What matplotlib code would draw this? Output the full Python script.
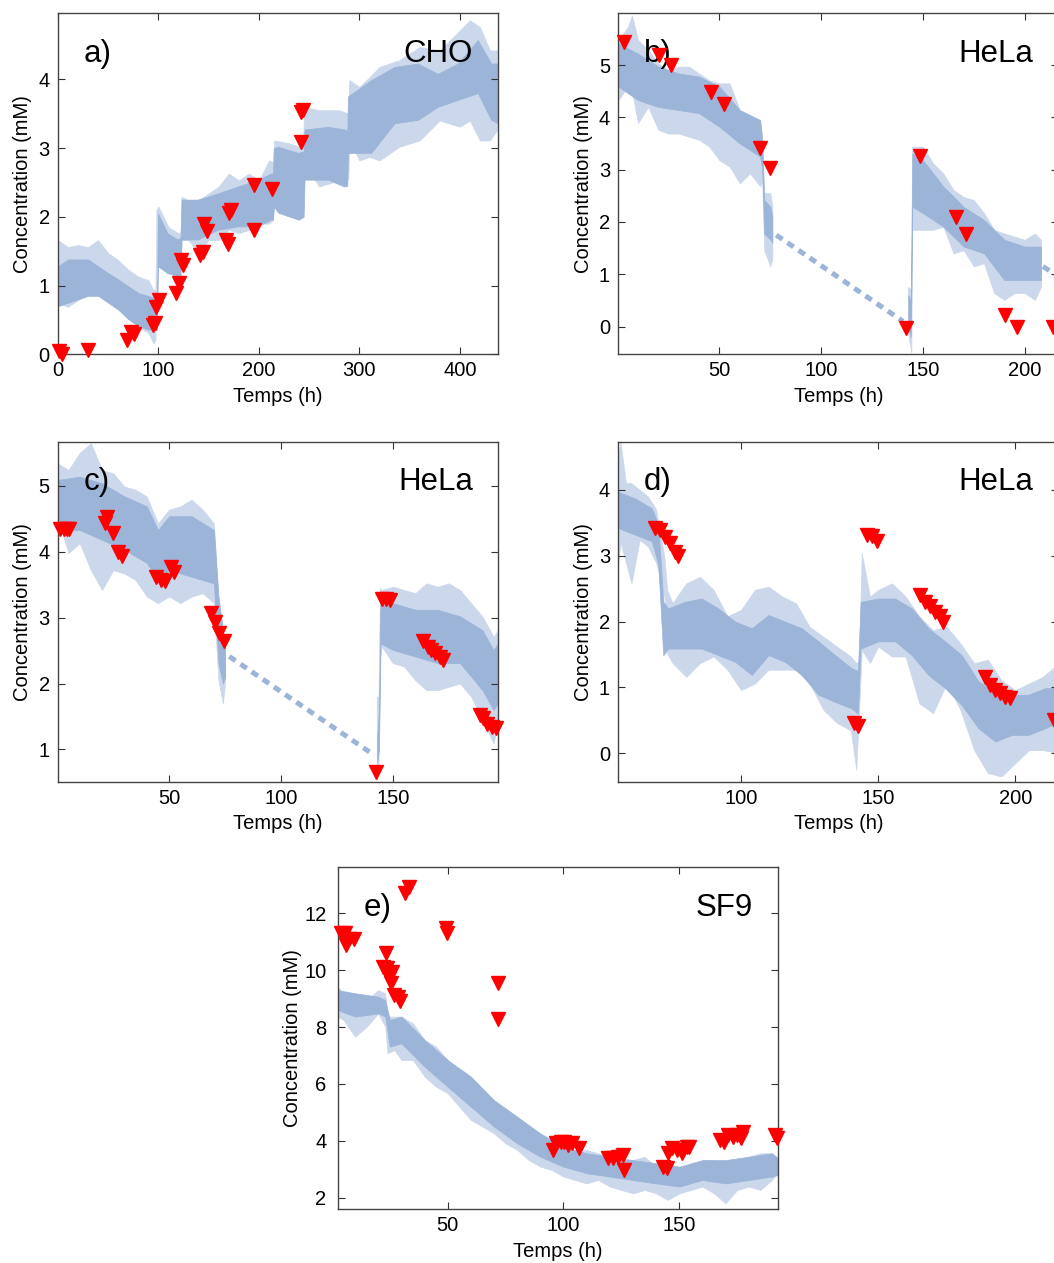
import numpy as np
import matplotlib.pyplot as plt

plt.rcParams['font.family'] = ['Liberation Sans', 'DejaVu Sans']

sig_col = '#9bb4d8'
halo_col = '#cbd8ec'
mk_col = '#ff0000'

# ---- a) CHO : outer envelope (spikes) ----
a_x = [0, 10, 20, 30, 40, 50, 60, 70, 80, 90, 95, 97, 98, 100, 110, 120, 122, 123,
       130, 140, 150, 160, 170, 180, 190, 200, 210, 214, 215, 230, 240, 244, 245,
       260, 280, 289, 290, 300, 310, 320, 340, 360, 380, 400, 410, 420, 430, 437]
a_hi = [1.66, 1.56, 1.59, 1.56, 1.66, 1.47, 1.37, 1.23, 1.13, 1.08, 0.93, 0.95, 2.10,
        2.15, 1.85, 1.76, 1.78, 2.29, 2.24, 2.24, 2.34, 2.44, 2.63, 2.53, 2.63, 2.53,
        2.82, 2.80, 3.11, 3.07, 3.02, 3.05, 3.60, 3.55, 3.55, 3.50, 3.99, 3.89, 4.03,
        4.18, 4.28, 4.47, 4.42, 4.71, 4.86, 4.76, 4.42, 4.42]
a_lo = [0.74, 0.69, 0.79, 0.89, 0.93, 0.79, 0.69, 0.55, 0.40, 0.31, 0.16, 0.20, 1.27,
        1.27, 1.23, 1.32, 1.35, 1.66, 1.66, 1.47, 1.66, 1.66, 1.81, 1.76, 1.81, 1.90,
        1.90, 1.95, 2.34, 2.15, 1.95, 2.00, 2.77, 2.44, 2.53, 2.55, 3.11, 2.82, 2.87,
        2.82, 3.02, 3.11, 3.40, 3.31, 3.40, 3.11, 3.11, 3.26]
# core (dense part of the trace)
a_cx = [0, 10, 20, 30, 40, 50, 60, 70, 80, 90, 98.5, 99.5, 109, 119, 122, 123, 139, 159,
        179, 199, 212, 214, 215, 219, 239, 244.5, 245.4, 268.7, 285.2, 288, 288.6, 311.8,
        335, 358.2, 378.1, 398, 417.9, 431.2, 437.8]
a_chi = [1.28, 1.38, 1.38, 1.38, 1.28, 1.18, 1.09, 0.99, 0.89, 0.85, 0.80, 2.05, 1.76,
         1.67, 1.70, 2.25, 2.25, 2.34, 2.44, 2.54, 2.63, 2.63, 3.00, 3.02, 2.93, 2.95,
         3.27, 3.31, 3.27, 3.25, 3.75, 3.99, 4.18, 4.23, 4.08, 4.23, 4.57, 4.23, 4.23]
a_clo = [0.70, 0.75, 0.80, 0.85, 0.85, 0.75, 0.65, 0.51, 0.41, 0.36, 0.35, 1.28, 1.18,
         1.14, 1.15, 1.67, 1.67, 1.81, 1.86, 1.86, 1.96, 1.96, 2.15, 2.06, 1.96, 2.00,
         2.54, 2.54, 2.44, 2.45, 2.93, 2.93, 3.36, 3.41, 3.60, 3.70, 3.80, 3.41, 3.36]
a_mx = [1, 4, 30, 69, 73, 76, 94.5, 97, 98, 100.5, 117, 120, 122, 124, 141, 144, 145,
        148, 167.5, 169, 170, 172.5, 194.7, 194.7, 213, 241.5, 242, 244]
a_my = [0.05, 0.0, 0.06, 0.21, 0.33, 0.30, 0.43, 0.45, 0.69, 0.79, 0.89, 1.03, 1.37,
        1.30, 1.44, 1.49, 1.90, 1.80, 1.66, 1.61, 2.06, 2.10, 1.81, 2.46, 2.41, 3.09,
        3.53, 3.55]

# ---- b) HeLa ----
b_x1 = [0.3, 5, 7, 10, 15, 20, 25, 30, 35, 40, 45, 50, 55, 60, 65, 70, 71, 72, 75, 76]
b_hi1 = [5.48, 5.73, 5.95, 5.48, 5.29, 5.03, 4.90, 4.97, 4.97, 4.84, 4.71, 4.65, 4.65,
         4.14, 3.95, 3.95, 3.06, 2.55, 2.55, 2.30]
b_lo1 = [4.33, 4.59, 4.50, 3.89, 4.20, 3.76, 3.69, 3.69, 3.63, 3.57, 3.44, 3.18, 3.06,
         2.74, 2.93, 2.68, 2.80, 1.46, 1.15, 1.30]
b_cx1 = [0.3, 10, 20, 30, 40, 50, 60, 70, 71, 72, 75, 76]
b_chi1 = [5.41, 5.22, 4.97, 4.84, 4.78, 4.59, 4.14, 3.95, 3.60, 2.42, 2.29, 2.10]
b_clo1 = [4.59, 4.33, 4.20, 4.14, 4.08, 3.82, 3.50, 3.25, 3.00, 1.78, 1.66, 1.60]
b_x2 = [142.6, 144.3, 144.6, 150, 155, 160, 165, 170, 175, 180, 185, 190, 195, 200, 205, 208]
b_hi2 = [0.76, 0.70, 3.44, 3.44, 3.12, 2.93, 2.61, 2.48, 2.42, 2.17, 1.85, 1.78, 1.72,
         1.66, 1.78, 1.66]
b_lo2 = [-0.10, -0.50, 1.85, 1.85, 1.85, 1.91, 1.40, 1.46, 1.15, 1.21, 0.64, 0.51, 0.64,
         0.64, 0.51, 0.76]
b_cx2 = [142.8, 144.0, 144.8, 150, 160, 170, 180, 190, 200, 208]
b_chi2 = [0.60, 0.50, 3.31, 3.18, 2.68, 2.29, 2.04, 1.66, 1.53, 1.53]
b_clo2 = [0.00, -0.20, 2.29, 2.17, 1.91, 1.53, 1.40, 0.89, 0.89, 0.89]
b_gap_x = [[77.9, 140.2], [209, 216]]
b_gap_y = [[1.75, 0.10], [1.15, 0.97]]
b_mx = [3.3, 20.5, 26.2, 45.9, 52, 69.7, 74.9, 141.8, 148.4, 166.1, 171, 190.2, 196, 214]
b_my = [5.45, 5.19, 5.00, 4.49, 4.25, 3.41, 3.04, -0.03, 3.26, 2.10, 1.77, 0.22, -0.01,
        -0.01]

# ---- c) HeLa ----
c_x1 = [0.3, 5, 10, 15, 20, 25, 30, 35, 40, 45, 50, 55, 60, 65, 70, 72, 74, 75]
c_hi1 = [5.34, 5.24, 5.50, 5.65, 5.24, 5.19, 4.99, 4.94, 4.84, 4.43, 4.64, 4.69, 4.79,
         4.64, 4.43, 3.32, 2.81, 2.60]
c_lo1 = [4.48, 3.98, 4.13, 3.72, 3.42, 3.72, 3.67, 3.57, 3.32, 3.22, 3.32, 3.22, 3.32,
         3.37, 3.22, 2.05, 1.70, 2.00]
c_cx1 = [0.3, 10, 20, 30, 40, 45, 50, 60, 70, 72, 74, 75]
c_chi1 = [5.09, 5.14, 5.04, 4.84, 4.69, 4.33, 4.54, 4.54, 4.33, 3.32, 2.81, 2.60]
c_clo1 = [4.33, 4.33, 4.18, 4.03, 3.83, 3.57, 3.72, 3.62, 3.52, 2.31, 2.00, 2.10]
c_x2 = [142.8, 143.6, 144.2, 145, 150, 155, 160, 165, 170, 175, 180, 185, 190, 195, 197]
c_hi2 = [1.80, 1.80, 3.45, 3.42, 3.47, 3.42, 3.37, 3.52, 3.47, 3.52, 3.42, 3.22, 3.02,
         2.71, 2.81]
c_lo2 = [0.53, 0.80, 2.40, 2.56, 2.31, 2.26, 2.05, 1.90, 1.90, 1.95, 2.00, 1.80, 1.45,
         1.09, 1.39]
c_cx2 = [143.0, 143.8, 144.5, 150, 160, 170, 180, 190, 195, 197]
c_chi2 = [1.20, 1.60, 3.32, 3.22, 3.12, 3.12, 3.02, 2.81, 2.51, 2.61]
c_clo2 = [0.80, 1.00, 2.61, 2.51, 2.41, 2.31, 2.31, 1.90, 1.60, 1.70]
c_gap_x = [76.9, 141.8]
c_gap_y = [2.41, 0.91]
c_mx = [1.2, 3.0, 4.5, 5.2, 21.3, 22.4, 24.9, 26.9, 28.8, 44.0, 46.3, 48.2, 50.7, 52.2,
        68.7, 70.6, 72.4, 74.6, 142.5, 145.2, 147.0, 148.5, 163.4, 165.7, 167.2, 168.7,
        170.9, 172.4, 188.8, 190.3, 192.1, 194.5, 196.3]
c_my = [4.34, 4.34, 4.34, 4.34, 4.43, 4.52, 4.29, 3.99, 3.93, 3.62, 3.57, 3.56, 3.77,
        3.70, 3.07, 2.94, 2.76, 2.65, 0.66, 3.28, 3.28, 3.26, 2.64, 2.56, 2.51, 2.46,
        2.41, 2.36, 1.52, 1.47, 1.39, 1.34, 1.32]

# ---- d) HeLa ----
d_x = [55.2, 56, 58, 60, 63, 66, 69, 72, 73, 75, 80, 85, 90, 95, 100, 105, 110, 115,
       120, 125, 130, 135, 140, 142, 143, 144, 147, 150, 155, 160, 165, 170, 175, 180,
       185, 190, 195, 200, 205, 210, 216]
d_hi = [4.51, 4.73, 4.10, 4.10, 4.00, 3.90, 3.70, 2.99, 2.48, 2.28, 2.58, 2.68, 2.48,
        2.08, 2.18, 2.48, 2.53, 2.38, 2.28, 1.92, 1.77, 1.62, 1.47, 1.37, 1.40, 3.04,
        2.38, 2.48, 2.58, 2.38, 2.08, 1.87, 1.92, 1.67, 1.37, 1.42, 1.11, 0.96, 1.06,
        1.16, 1.37]
d_lo = [2.89, 3.20, 2.89, 2.58, 3.24, 3.14, 2.89, 2.38, 1.52, 1.37, 1.16, 1.37, 1.47,
        1.27, 0.96, 1.06, 1.27, 1.27, 1.27, 1.06, 0.66, 0.46, 0.35, -0.25, 0.60, 1.57,
        1.37, 1.62, 1.47, 1.47, 0.76, 0.61, 1.06, 0.66, 0.05, -0.30, -0.35, -0.15, 0.05,
        0.05, 0.00]
d_cx = [55.2, 61.3, 67.4, 69.8, 71.6, 73.4, 79.5, 85.6, 91.7, 97.8, 103.9, 110, 116,
        122.1, 128.2, 134.3, 140.4, 142.6, 143.6, 150.1, 156.2, 162.3, 168.3, 174.4,
        180.5, 186.6, 192.7, 198.8, 204.8, 210.9, 216]
d_chi = [3.97, 3.87, 3.72, 3.47, 2.30, 2.20, 2.30, 2.35, 2.20, 2.00, 1.90, 2.10, 2.00,
         1.90, 1.70, 1.49, 1.29, 1.25, 2.30, 2.35, 2.35, 2.20, 1.90, 1.70, 1.49, 1.09,
         0.94, 0.89, 0.89, 0.99, 0.99]
d_clo = [3.42, 3.32, 3.22, 2.86, 1.49, 1.59, 1.59, 1.59, 1.49, 1.39, 1.19, 1.49, 1.39,
         1.19, 0.89, 0.78, 0.68, 0.60, 1.59, 1.70, 1.70, 1.49, 1.19, 0.99, 0.73, 0.38,
         0.18, 0.28, 0.28, 0.38, 0.48]
d_mx = [68.6, 70.4, 72.3, 74.1, 75.9, 77.1, 141.0, 142.8, 145.9, 147.7, 149.5, 165.3,
        167.2, 169.0, 170.8, 172.6, 173.8, 189.1, 190.9, 192.7, 194.5, 196.4, 198.2, 214]
d_my = [3.42, 3.39, 3.29, 3.19, 3.06, 2.99, 0.46, 0.41, 3.32, 3.30, 3.22, 2.41, 2.30,
        2.23, 2.15, 2.08, 2.00, 1.16, 1.04, 0.96, 0.91, 0.86, 0.84, 0.51]

# ---- e) SF9 ----
e_x = [2.5, 5, 10, 15, 20, 23, 24, 27, 30, 35, 40, 45, 50, 55, 60, 65, 70, 75, 80, 85,
       90, 95, 100, 105, 110, 115, 120, 125, 130, 135, 140, 145, 150, 155, 160, 165,
       170, 175, 180, 185, 190, 192.5]
e_hi = [9.42, 9.19, 8.95, 8.95, 9.30, 9.19, 8.37, 8.37, 8.37, 8.13, 7.55, 7.31, 6.84,
        6.37, 6.14, 5.67, 5.20, 4.85, 4.61, 4.38, 4.03, 3.91, 3.79, 3.56, 3.68, 3.56,
        3.44, 3.32, 3.32, 3.44, 3.09, 2.97, 2.97, 3.09, 3.32, 3.32, 3.09, 3.32, 3.44,
        3.56, 3.56, 3.32]
e_lo = [8.37, 8.25, 7.66, 8.01, 8.48, 8.01, 7.08, 7.19, 6.84, 6.84, 6.26, 5.90, 5.67,
        5.20, 4.73, 4.50, 4.26, 3.91, 3.68, 3.32, 3.09, 2.97, 2.74, 2.62, 2.50, 2.62,
        2.39, 2.27, 2.15, 2.27, 2.15, 1.92, 2.15, 2.27, 2.39, 2.15, 1.80, 2.27, 2.39,
        2.27, 2.62, 2.86]
e_cx = [2.5, 10, 20, 23, 25, 30, 40, 50, 60, 70, 80, 90, 100, 110, 120, 130, 140, 150,
        160, 170, 180, 190, 192.5]
e_chi = [9.30, 9.19, 9.07, 8.95, 8.25, 8.37, 7.55, 6.84, 6.26, 5.43, 4.85, 4.26, 3.79,
         3.56, 3.44, 3.32, 3.21, 3.09, 3.32, 3.32, 3.44, 3.56, 3.40]
e_clo = [8.60, 8.37, 8.48, 8.37, 7.31, 7.43, 6.61, 5.90, 5.20, 4.50, 3.91, 3.44, 3.09,
         2.86, 2.74, 2.62, 2.50, 2.39, 2.62, 2.50, 2.62, 2.74, 2.80]
e_mx = [3.8, 5.5, 6.2, 7.4, 9.6, 23.4, 22.2, 23.9, 25.8, 24.8, 25.4, 26.8, 28.7, 29.4,
        31.6, 33.5, 49.3, 49.6, 71.9, 71.9, 95.6, 96.8, 98.8, 100.2, 102.1, 103.5, 106.8,
        119.4, 121.5, 123.7, 125.8, 126.1, 143.1, 144.8, 145.3, 146.7, 148.8, 151.0,
        153.2, 154.3, 167.6, 169.3, 171.2, 173.3, 174.8, 176.5, 177.6, 191.3, 192]
e_my = [11.3, 11.3, 10.9, 11.1, 11.1, 10.59, 10.12, 10.07, 9.95, 9.71, 9.54, 9.13, 9.07,
        8.90, 12.70, 12.94, 11.47, 11.30, 9.54, 8.27, 3.68, 3.91, 3.97, 3.97, 3.85, 3.91,
        3.73, 3.38, 3.38, 3.44, 3.50, 2.97, 3.09, 3.03, 3.56, 3.73, 3.68, 3.56, 3.79,
        3.79, 4.03, 3.97, 4.20, 4.15, 4.20, 4.09, 4.32, 4.20, 4.09]

W, H = 1054, 1263
fig = plt.figure(figsize=(W / 100, H / 100), dpi=100)


def make_ax(l, t, w=440, h=341):
    return fig.add_axes([l / W, (H - t - h) / H, w / W, h / H])


def style(ax, xlim, ylim, xt, yt, tag, name, ylab_x=-0.058, ypad=6):
    ax.set_xlim(xlim)
    ax.set_ylim(ylim)
    ax.set_xticks(xt)
    ax.set_yticks(yt)
    ax.tick_params(direction='in', length=5, width=0.8, top=True, right=True,
                   labelsize=14.5, colors='#333333', labelcolor='black')
    ax.tick_params(axis='x', pad=5)
    ax.tick_params(axis='y', pad=ypad)
    for s in ax.spines.values():
        s.set_color('#444444')
        s.set_linewidth(1)
    ax.set_xlabel('Temps (h)', fontsize=14.5)
    ax.set_ylabel('Concentration (mM)', fontsize=14.5)
    ax.xaxis.set_label_coords(0.5, -0.095)
    ax.yaxis.set_label_coords(ylab_x, 0.5)
    ax.text(0.058, 0.858, tag, transform=ax.transAxes, fontsize=22.5, ha='left', va='baseline')
    ax.text(0.943, 0.858, name, transform=ax.transAxes, fontsize=22.5, ha='right', va='baseline')


def band(ax, x, lo, hi, cx, clo, chi):
    # light halo = spikes of the noisy trace, solid = dense core
    ax.fill_between(x, lo, hi, color=halo_col, lw=0.5, edgecolor=halo_col)
    ax.fill_between(cx, clo, chi, color=sig_col, lw=0.5, edgecolor=sig_col)


def marks(ax, x, y):
    ax.plot(x, y, 'v', color=mk_col, ms=9.5, mec=mk_col, clip_on=False, zorder=5)


dash = dict(color=sig_col, lw=3.6, linestyle=(0, (1.5, 1.2)), solid_capstyle='butt')

ax = make_ax(58, 13.3)
band(ax, a_x, a_lo, a_hi, a_cx, a_clo, a_chi)
marks(ax, a_mx, a_my)
style(ax, (0, 438), (0, 4.96), [0, 100, 200, 300, 400], [0, 1, 2, 3, 4], 'a)', 'CHO')

ax = make_ax(618.3, 13.3)
band(ax, b_x1, b_lo1, b_hi1, b_cx1, b_clo1, b_chi1)
band(ax, b_x2, b_lo2, b_hi2, b_cx2, b_clo2, b_chi2)
for gx, gy in zip(b_gap_x, b_gap_y):
    ax.plot(gx, gy, **dash)
marks(ax, b_mx, b_my)
style(ax, (0.3, 216.5), (-0.53, 5.99), [50, 100, 150, 200], [0, 1, 2, 3, 4, 5], 'b)', 'HeLa')

ax = make_ax(58, 441.7, h=340)
band(ax, c_x1, c_lo1, c_hi1, c_cx1, c_clo1, c_chi1)
band(ax, c_x2, c_lo2, c_hi2, c_cx2, c_clo2, c_chi2)
ax.plot(c_gap_x, c_gap_y, **dash)
marks(ax, c_mx, c_my)
style(ax, (0.3, 197), (0.51, 5.67), [50, 100, 150], [1, 2, 3, 4, 5], 'c)', 'HeLa')

ax = make_ax(618.3, 441.7, h=340)
band(ax, d_x, d_lo, d_hi, d_cx, d_clo, d_chi)
marks(ax, d_mx, d_my)
style(ax, (55.2, 215.7), (-0.43, 4.73), [100, 150, 200], [0, 1, 2, 3, 4], 'd)', 'HeLa')

ax = make_ax(337.7, 867.3, h=342)
band(ax, e_x, e_lo, e_hi, e_cx, e_clo, e_chi)
marks(ax, e_mx, e_my)
style(ax, (2.5, 192.5), (1.59, 13.62), [50, 100, 150], [2, 4, 6, 8, 10, 12], 'e)', 'SF9',
      ylab_x=-0.082, ypad=8)

fig.savefig('out.png', dpi=100)
